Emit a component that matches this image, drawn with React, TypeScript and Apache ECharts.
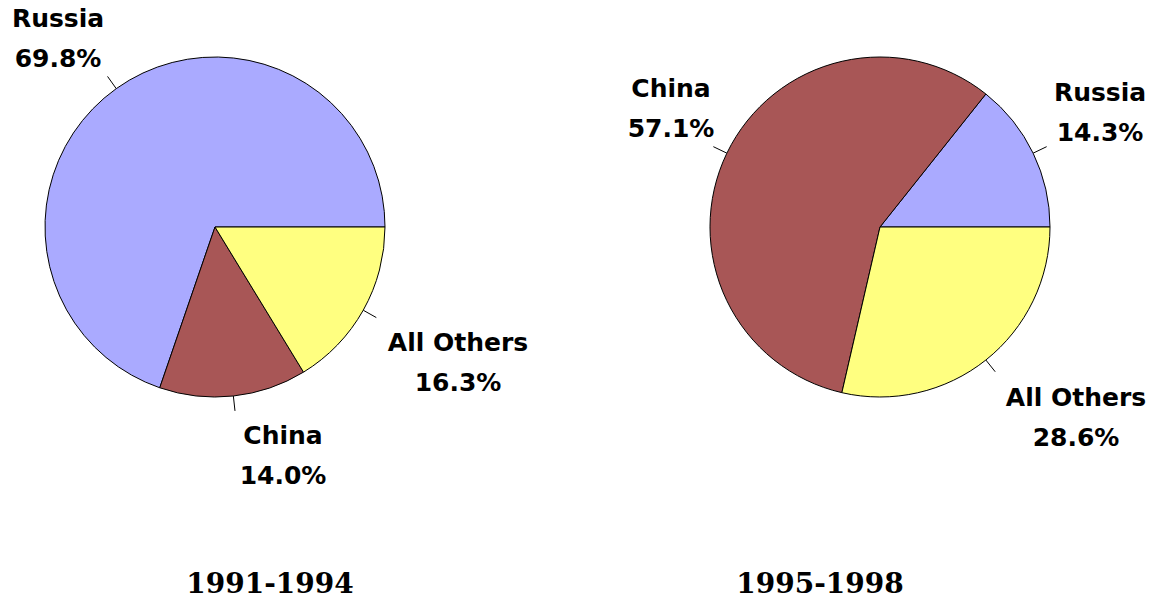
import React, { useEffect, useRef } from "react";
import * as echarts from "echarts";

const categories = ["Russia", "China", "All Others"];
const periods = ["1991-1994", "1995-1998"];
const shares1991 = [69.8, 14.0, 16.3];
const shares1995 = [14.3, 57.1, 28.6];
const sliceColors = ["#AAAAFF", "#A85656", "#FFFF80"];

// layout only: where each label block is centred (per pie, per slice)
const labelAnchors = [
  [[58, 38], [283, 455], [458, 362]],
  [[1100, 112], [671, 108], [1076, 417]],
];

const makeSeries = (values: number[], center: number[]) => ({
  type: "pie",
  center,
  radius: 170,
  startAngle: 0,
  clockwise: false,
  avoidLabelOverlap: false,
  silent: true,
  emphasis: { disabled: true },
  data: categories.map((c, i) => ({
    name: c,
    value: values[i],
    itemStyle: { color: sliceColors[i] },
  })),
  itemStyle: { borderColor: "#000", borderWidth: 1 },
  label: {
    show: true,
    position: "outside",
    formatter: (p: any) => `${p.name}\n${Number(p.value).toFixed(1)}%`,
    color: "#000",
    fontFamily: "DejaVu Sans",
    fontWeight: "bold",
    fontSize: 25,
    lineHeight: 40,
    align: "center",
  },
  labelLine: {
    show: true,
    length: 15,
    length2: 0,
    smooth: false,
    lineStyle: { color: "#000", width: 1 },
  },
  labelLayout: (params: any) => {
    const a = labelAnchors[params.seriesIndex][params.dataIndex];
    return {
      x: a[0],
      y: a[1],
      align: "center",
      verticalAlign: "middle",
      labelLinePoints: params.labelLinePoints,
    };
  },
});

export default function App() {
  const ref = useRef<HTMLDivElement>(null);
  useEffect(() => {
    if (!ref.current) return;
    const chart = echarts.init(ref.current, null, { renderer: "svg" });
    const titleStyle = {
      fontFamily: "DejaVu Serif",
      fontWeight: "bold",
      fontSize: 28,
      color: "#000",
    };
    chart.setOption({
      animation: false,
      backgroundColor: "#fff",
      title: [
        { text: periods[0], left: 270, top: 569, textAlign: "center", padding: 0, textStyle: titleStyle },
        { text: periods[1], left: 820, top: 569, textAlign: "center", padding: 0, textStyle: titleStyle },
      ],
      series: [makeSeries(shares1991, [215, 227]), makeSeries(shares1995, [880, 227])],
    });
    return () => chart.dispose();
  }, []);
  return (
    <div
      ref={ref}
      style={{ position: "fixed", left: 0, top: 0, width: 1159, height: 601, background: "#fff" }}
    />
  );
}
